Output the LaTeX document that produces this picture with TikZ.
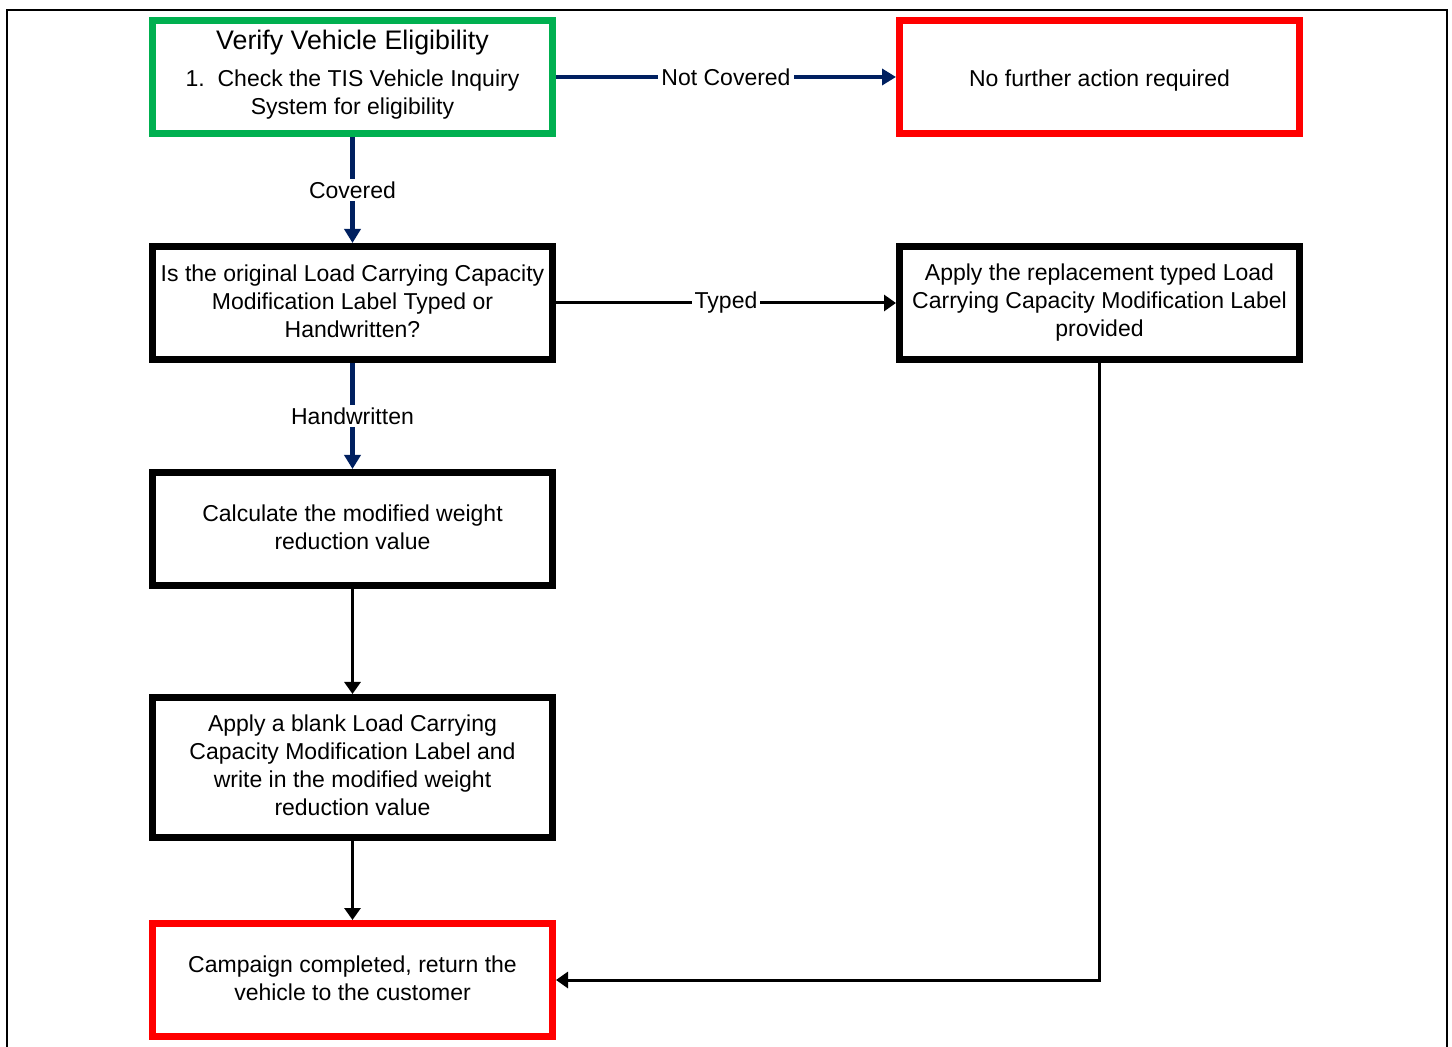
\documentclass[tikz,border=0pt]{standalone}
\usepackage{fontspec}
\setmainfont{Liberation Sans}
\usetikzlibrary{arrows.meta}
\definecolor{okgreen}{RGB}{0,176,80}
\definecolor{stopred}{RGB}{255,0,0}
\definecolor{navyblue}{RGB}{0,32,96}
\begin{document}
\begin{tikzpicture}[x=0.5pt,y=-0.5pt,
  box/.style={draw=black,line width=3.5pt,minimum width=200pt,minimum height=56.5pt,
    align=center,font=\fontsize{11.5}{14}\selectfont,inner sep=2pt,
    execute at begin node={\rule{0pt}{11.8pt}}, execute at end node={\rule[-2.2pt]{0pt}{2.2pt}}},
  greenbox/.style={box,draw=okgreen},
  redbox/.style={box,draw=stopred},
  txt/.style={align=center,font=\fontsize{11.5}{14}\selectfont,inner sep=0pt,
    execute at begin node=\strut, execute at end node=\strut},
  lbl/.style={fill=white,inner sep=1.5pt,font=\fontsize{11.5}{14}\selectfont},
  bluearrow/.style={draw=navyblue,line width=2.2pt,-{Triangle[length=7pt,width=8pt]}},
  blackarrow/.style={draw=black,line width=1.5pt,-{Triangle[length=6pt,width=8pt]}}
]
\useasboundingbox (0,0) rectangle (1452,1047);
\fill[white] (0,0) rectangle (1452,1047);
\draw[line width=1pt] (7,1050) -- (7,10.5) -- (1447,10.5) -- (1447,1050);

% nodes
\node[greenbox,execute at begin node={},execute at end node={}] (elig) at (352.5,77) {};
\node[txt,font=\fontsize{13.4}{16}\selectfont] (eligtitle) at (352.5,43) {Verify Vehicle Eligibility};
\node[txt] (eligbody) at (352.5,96) {1.\ \ Check the TIS Vehicle Inquiry\\System for eligibility};

\node[redbox] (nofurther) at (1099.5,77) {No further action required};

\node[box] (question) at (352.5,303) {Is the original Load Carrying Capacity\\Modification Label Typed or\\Handwritten?};

\node[box] (typedlabel) at (1099.5,303) {Apply the replacement typed Load\\Carrying Capacity Modification Label\\provided};

\node[box] (calc) at (352.5,529) {Calculate the modified weight\\reduction value};

\node[box,minimum height=70pt] (blank) at (352.5,767.5) {Apply a blank Load Carrying\\Capacity Modification Label and\\write in the modified weight\\reduction value};

\node[redbox] (done) at (352.5,980) {Campaign completed, return the\\vehicle to the customer};

% connectors
\draw[bluearrow] (elig) -- node[lbl] {Not Covered} (nofurther);
\draw[bluearrow] (elig) -- node[lbl] {Covered} (question);
\draw[blackarrow] (question) -- node[lbl] {Typed} (typedlabel);
\draw[bluearrow] (question) -- node[lbl] {Handwritten} (calc);
\draw[blackarrow] (calc) -- (blank);
\draw[blackarrow] (blank) -- (done);
\draw[blackarrow] (typedlabel) |- (done);
\end{tikzpicture}
\end{document}
